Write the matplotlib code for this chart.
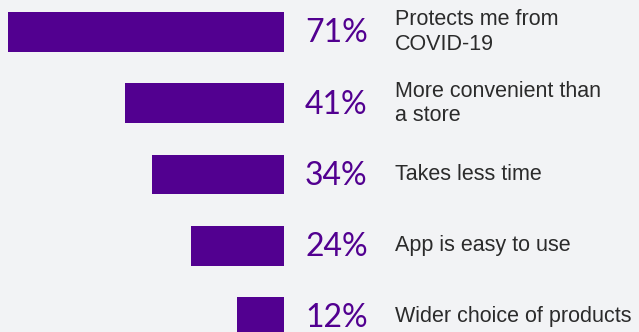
import matplotlib.pyplot as plt

# Reasons for shopping online
reasons = ['Protects me from\nCOVID-19', 'More convenient than\na store', 'Takes less time',
           'App is easy to use', 'Wider choice of products']
shares = [71, 41, 34, 24, 12]

purple = '#520090'
bg = '#f2f3f5'

fig = plt.figure(figsize=(6.39, 3.32), dpi=100, facecolor=bg)
ax = fig.add_axes([0, 0, 1, 1], facecolor=bg)

y = range(len(reasons))
# bars grow leftward from zero
ax.barh(y, [-s for s in shares], height=0.56, color=purple)

for i, (s, r) in enumerate(zip(shares, reasons)):
    ax.text(5.4, i + 0.02, f'{s}%', color=purple, fontsize=23, family='Lato',
            ha='left', va='center')
    ax.text(28.5, i, r, color='#2b2b2b', fontsize=15.5, family='Liberation Sans',
            ha='left', va='center', linespacing=1.2)

ax.set_xlim(-284 / 3.89, (639 - 284) / 3.89)
ax.set_ylim(4.211, -0.449)
ax.axis('off')

fig.savefig('out.png', dpi=100, facecolor=bg)
